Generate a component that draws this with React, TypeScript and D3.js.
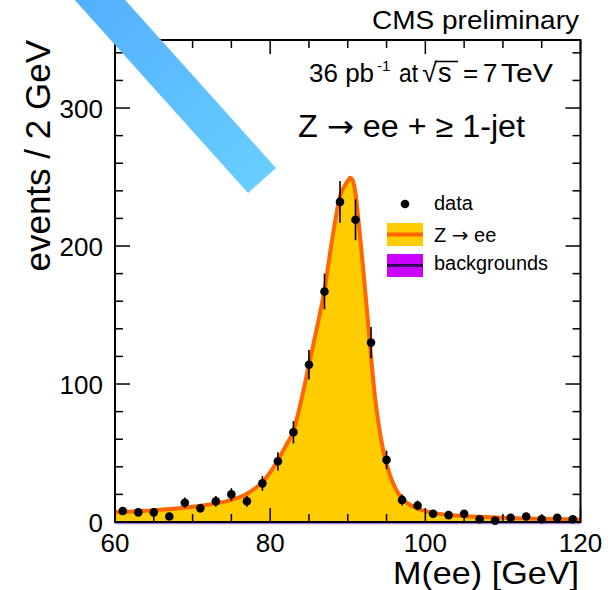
import React from "react";
import * as d3 from "d3";

// ---- data ----
const binCenters = [61, 63, 65, 67, 69, 71, 73, 75, 77, 79, 81, 83, 85, 87, 89, 91, 93, 95, 97, 99, 101, 103, 105, 107, 109, 111, 113, 115, 117, 119];
const dataCounts = [8, 7, 7, 4, 14, 10, 15, 20, 15, 28, 44, 65, 114, 167, 232, 219, 130, 45, 16, 12, 6, 5, 6, 2, 1, 3, 4, 2, 3, 2];
const dataErrors = [2.8, 2.6, 2.6, 2.0, 3.7, 3.2, 3.9, 4.5, 3.9, 5.3, 6.6, 8.1, 10.7, 12.9, 15.2, 14.8, 11.4, 6.7, 4.0, 3.5, 2.4, 2.2, 2.4, 1.4, 1.0, 1.7, 2.0, 1.4, 1.7, 1.4];

const fitMass = [60, 65, 70, 73, 75, 77, 79, 80, 81, 82, 83, 84, 85, 86, 87, 88, 89, 90, 90.3, 90.6, 91, 91.5, 92, 92.5, 93, 93.5, 94, 94.5, 95, 96, 97, 98, 99, 101, 103, 106, 110, 115, 120];
const fitYield = [7, 8.5, 11, 13.5, 16, 20.5, 29, 36, 45, 55, 66, 88, 114, 140, 168, 205, 236, 247, 249.5, 248, 238, 212, 183, 152, 120, 91, 70, 54, 42, 26, 17, 12.5, 9.8, 6.6, 5, 4, 3, 2.3, 1.8];

const xTicksMajor = [60, 80, 100, 120];
const yTicksMajor = [0, 100, 200, 300];

const X0 = 115, X1 = 580.5, Y0 = 522, Y1 = 40;

export default function App() {
  const x = d3.scaleLinear().domain([60, 120]).range([X0, X1]);
  const y = d3.scaleLinear().domain([0, 349.3]).range([Y0, Y1]);

  const pts: [number, number][] = fitMass.map((m, i) => [m, fitYield[i]]);
  const area = d3.area<[number, number]>().x(d => x(d[0])).y0(y(0)).y1(d => y(d[1])).curve(d3.curveMonotoneX)(pts) || "";
  const line = d3.line<[number, number]>().x(d => x(d[0])).y(d => y(d[1])).curve(d3.curveMonotoneX)(pts) || "";

  const xMinor = d3.range(60, 120.01, 5);
  const yMinor = d3.range(0, 349, 20);

  const font = "'Liberation Sans', Arial, Helvetica, sans-serif";
  const arrowFont = "'DejaVu Sans', sans-serif";

  // blue stripe
  const dir = [0.668, 0.744];
  const end = [262, 180.5];
  const start = [end[0] - dir[0] * 270, end[1] - dir[1] * 270];

  return (
    <svg width={611} height={590} style={{ position: "absolute", left: 0, top: 0, background: "#fff" }} fontFamily={font}>
      <defs>
        <clipPath id="plot">
          <rect x={X0} y={Y1} width={X1 - X0} height={Y0 - Y1} />
        </clipPath>
        <linearGradient id="blue" gradientUnits="userSpaceOnUse" x1={start[0]} y1={start[1]} x2={end[0]} y2={end[1]}>
          <stop offset="0" stopColor="#52aeff" />
          <stop offset="1" stopColor="#68cdff" />
        </linearGradient>
      </defs>
      <rect x={0} y={0} width={611} height={590} fill="#fff" />

      <g clipPath="url(#plot)">
        <path d={area} fill="#ffcc00" />
        <path d={line} fill="none" stroke="#ff6600" strokeWidth={4} />
      </g>
      {/* backgrounds (tiny) */}
      <line x1={x(60)} x2={x(120)} y1={y(0) + 1.5} y2={y(0) + 1.5} stroke="#a77fd6" strokeWidth={1.5} />

      {/* data */}
      <g>
        {binCenters.map((c, i) => (
          <g key={i}>
            <line x1={x(c)} x2={x(c)} y1={y(dataCounts[i] - dataErrors[i])} y2={y(dataCounts[i] + dataErrors[i])} stroke="#000" strokeWidth={1.6} />
            <circle cx={x(c)} cy={y(dataCounts[i])} r={4.3} fill="#000" />
          </g>
        ))}
      </g>

      {/* frame */}
      <rect x={X0} y={Y1} width={X1 - X0} height={Y0 - Y1} fill="none" stroke="#000" strokeWidth={2} />
      {/* ticks */}
      <g stroke="#000" strokeWidth={1.5}>
        {xMinor.map(v => {
          const L = xTicksMajor.includes(v) ? 14 : 8;
          return (
            <g key={"x" + v}>
              <line x1={x(v)} x2={x(v)} y1={Y0} y2={Y0 - L} />
              <line x1={x(v)} x2={x(v)} y1={Y1} y2={Y1 + L} />
            </g>
          );
        })}
        {yMinor.map(v => {
          const L = yTicksMajor.includes(v) ? 15 : 8;
          return (
            <g key={"y" + v}>
              <line x1={X0} x2={X0 + L} y1={y(v)} y2={y(v)} />
              <line x1={X1} x2={X1 - L} y1={y(v)} y2={y(v)} />
            </g>
          );
        })}
      </g>
      {/* tick labels */}
      <g fontSize={26} fill="#000">
        {yTicksMajor.map(v => (
          <text key={v} x={103} y={y(v) + 9.5} textAnchor="end">{v}</text>
        ))}
        {xTicksMajor.map(v => (
          <text key={v} x={x(v)} y={552} textAnchor="middle">{v}</text>
        ))}
      </g>

      {/* axis titles */}
      <text x={393} y={584} fontSize={32} textLength={186} lengthAdjust="spacingAndGlyphs">M(ee) [GeV]</text>
      <text transform="translate(50,40) rotate(-90)" fontSize={35} textAnchor="end">events / 2 GeV</text>

      {/* header texts */}
      <text x={372} y={29} fontSize={26} textLength={207} lengthAdjust="spacingAndGlyphs">CMS preliminary</text>
      <text x={309} y={82} fontSize={26}>36 pb</text>
      <text x={377} y={71} fontSize={15}>-1</text>
      <text x={399} y={82} fontSize={26} textLength={19} lengthAdjust="spacingAndGlyphs">at</text>
      <text x={422} y={82} fontSize={27}>√</text>
      <line x1={435} x2={458} y1={61.5} y2={61.5} stroke="#000" strokeWidth={1.6} />
      <text x={438} y={82} fontSize={27}>s</text>
      <text x={463} y={82} fontSize={26}>=</text>
      <text x={483} y={82} fontSize={26}>7</text>
      <text x={501} y={82} fontSize={26} textLength={52} lengthAdjust="spacingAndGlyphs">TeV</text>
      <text x={298} y={137} fontSize={31} textLength={227} lengthAdjust="spacingAndGlyphs">
        Z <tspan fontFamily={arrowFont}>→</tspan> ee + ≥ 1-jet
      </text>

      {/* legend */}
      <circle cx={405} cy={204} r={4.3} fill="#000" />
      <text x={434} y={210} fontSize={20}>data</text>
      <rect x={387} y={223} width={36} height={23} fill="#ffcc00" />
      <line x1={387} x2={423} y1={234.5} y2={234.5} stroke="#ff6600" strokeWidth={4} />
      <text x={434} y={242} fontSize={20}>
        Z <tspan fontFamily={arrowFont}>→</tspan> ee
      </text>
      <rect x={387} y={254} width={36} height={23} fill="#cc00ff" />
      <line x1={387} x2={423} y1={265.5} y2={265.5} stroke="#3a0060" strokeWidth={3} />
      <text x={434} y={270} fontSize={20} textLength={114} lengthAdjust="spacingAndGlyphs">backgrounds</text>

      {/* blue stripe */}
      <line x1={start[0]} y1={start[1]} x2={end[0]} y2={end[1]} stroke="url(#blue)" strokeWidth={37.5} />
    </svg>
  );
}
